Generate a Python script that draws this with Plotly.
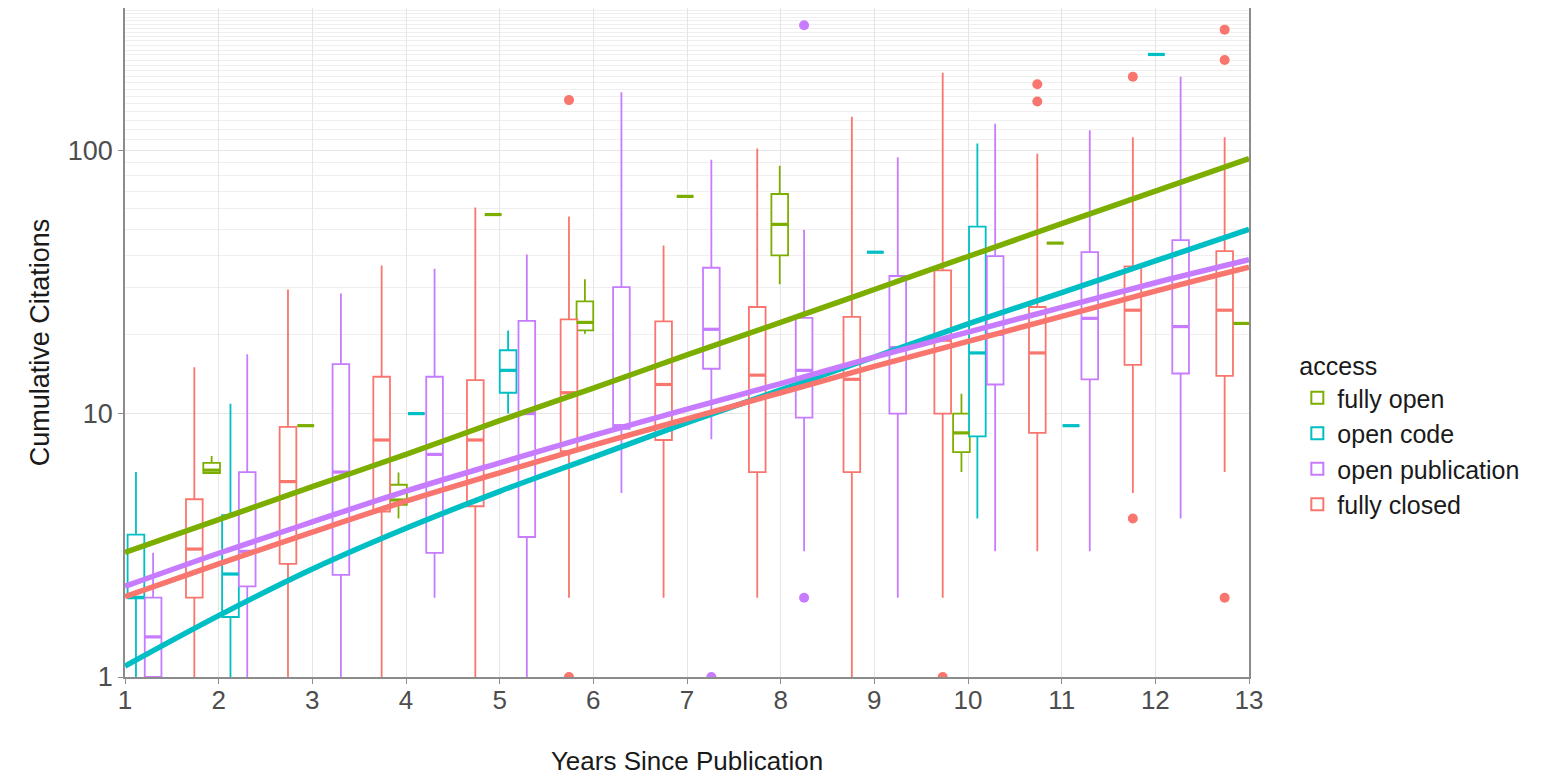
import plotly.graph_objects as go

# ---------------- data ----------------
groups = ["fully open", "open code", "open publication", "fully closed"]
colors = {"fully open": "#7CAE00", "open code": "#00BFC4",
          "open publication": "#C77CFF", "fully closed": "#F8766D"}

# fully open (green)
open_x = [1.925, 2.93, 3.92, 4.93, 5.91, 6.98, 7.99, 9.93, 10.93, 12.92]
open_q1 = [5.95, 9, 4.5, 57, 20.7, 66.8, 39.9, 7.14, 44.4, 22]
open_med = [6.1, 9, 4.7, 57, 22.2, 66.8, 52.3, 8.45, 44.4, 22]
open_q3 = [6.5, 9, 5.37, 57, 26.7, 66.8, 68.2, 10.0, 44.4, 22]
open_lo = [5.95, 9, 4.0, 57, 20.1, 66.8, 31.0, 6.0, 44.4, 22]
open_hi = [6.9, 9, 5.97, 57, 32.4, 66.8, 87.3, 11.9, 44.4, 22]

# open code (teal)
code_x = [1.117, 2.126, 4.11, 5.09, 9.01, 10.1, 11.1, 12.01]
code_q1 = [2.0, 1.69, 10, 12.0, 41, 8.2, 9, 231]
code_med = [2.0, 2.46, 10, 14.6, 41, 17.0, 9, 231]
code_q3 = [3.47, 4.12, 10, 17.4, 41, 51.3, 9, 231]
code_lo = [1.0, 1.0, 10, 10.0, 41, 4.0, 9, 231]
code_hi = [6.0, 10.9, 10, 20.7, 41, 106, 9, 231]

# open publication (purple)
pub_x = [1.30, 2.305, 3.305, 4.305, 5.29, 6.30, 7.26, 8.25, 9.25, 10.29, 11.30, 12.27]
pub_q1 = [1.0, 2.21, 2.44, 2.96, 3.4, 8.75, 14.8, 9.66, 10.0, 12.9, 13.5, 14.2]
pub_med = [1.42, 3.0, 6.0, 7.0, 10.0, 9.0, 20.9, 14.6, 17.8, 20.0, 23.0, 21.4]
pub_q3 = [2.0, 6.0, 15.4, 13.8, 22.5, 30.2, 35.8, 23.1, 33.3, 39.6, 41.0, 45.6]
pub_lo = [1.0, 1.0, 1.0, 2.0, 1.0, 5.0, 8.0, 3.0, 2.0, 3.0, 3.0, 4.0]
pub_hi = [2.96, 16.8, 28.6, 35.5, 40.2, 166, 92, 49.9, 94, 126, 119, 190]
pub_out_x = [7.26, 8.25, 8.25]
pub_out_y = [1, 298, 2]

# fully closed (red)
closed_x = [1.74, 2.74, 3.74, 4.74, 5.74, 6.75, 7.75, 8.76, 9.73, 10.74, 11.76, 12.74]
closed_q1 = [2.0, 2.69, 4.25, 4.45, 7.2, 7.94, 6.0, 6.0, 10.0, 8.45, 15.3, 13.9]
closed_med = [3.06, 5.52, 7.94, 7.94, 12.0, 12.9, 14.0, 13.5, 19.0, 17.0, 24.7, 24.7]
closed_q3 = [4.73, 8.9, 13.8, 13.4, 22.8, 22.4, 25.4, 23.3, 35.0, 25.4, 36.2, 41.4]
closed_lo = [1.0, 1.0, 1.0, 1.0, 2.0, 2.0, 2.0, 1.0, 2.0, 3.0, 5.0, 6.0]
closed_hi = [15.0, 29.6, 36.5, 60.6, 56.0, 43.5, 101.6, 134, 197, 97, 112, 112]
closed_out_x = [5.74, 5.74, 9.73, 10.74, 10.74, 11.76, 11.76, 12.74, 12.74, 12.74]
closed_out_y = [155, 1, 1, 178, 153, 190, 4, 287, 220, 2]

# smooth fit lines (read at each year)
fit_years = [1, 2, 3, 4, 5, 6, 7, 8, 9, 10, 11, 12, 13]
fit_open = [2.97, 3.96, 5.28, 7.0, 9.4, 12.5, 16.7, 22.2, 29.6, 39.5, 52.6, 70.0, 93.0]
fit_code = [1.10, 1.71, 2.57, 3.67, 5.07, 6.84, 9.23, 12.3, 16.4, 21.9, 28.8, 38.0, 50.1]
fit_pub = [2.21, 2.95, 3.88, 5.08, 6.5, 8.27, 10.4, 13.0, 16.4, 20.4, 25.3, 31.4, 38.4]
fit_closed = [2.02, 2.69, 3.55, 4.65, 5.96, 7.59, 9.55, 12.0, 15.1, 18.8, 23.4, 29.2, 36.0]

x_ticks = list(range(1, 14))
y_ticks = [1, 10, 100]

# ---------------- figure ----------------
BOX_W = 0.178
FONT = "Liberation Sans, Arial, Helvetica, sans-serif"

box_data = {
    "fully open": (open_x, open_q1, open_med, open_q3, open_lo, open_hi),
    "open code": (code_x, code_q1, code_med, code_q3, code_lo, code_hi),
    "open publication": (pub_x, pub_q1, pub_med, pub_q3, pub_lo, pub_hi),
    "fully closed": (closed_x, closed_q1, closed_med, closed_q3, closed_lo, closed_hi),
}
fits = {"fully open": fit_open, "open code": fit_code,
        "open publication": fit_pub, "fully closed": fit_closed}
outliers = {"open publication": (pub_out_x, pub_out_y),
            "fully closed": (closed_out_x, closed_out_y)}

fig = go.Figure()

for g in groups:
    xs, q1, med, q3, lo, hi = box_data[g]
    fig.add_trace(go.Box(
        name=g, legendgroup=g, x=xs, q1=q1, median=med, q3=q3,
        lowerfence=lo, upperfence=hi, width=BOX_W, whiskerwidth=0,
        line=dict(color=colors[g], width=1.8), fillcolor="white",
        boxpoints=False, showlegend=True, hoverinfo="skip"))

# thicker medians
for g in groups:
    xs, q1, med, q3, lo, hi = box_data[g]
    mx, my = [], []
    for x, m in zip(xs, med):
        mx += [x - BOX_W / 2, x + BOX_W / 2, None]
        my += [m, m, None]
    fig.add_trace(go.Scatter(x=mx, y=my, mode="lines", legendgroup=g,
                             line=dict(color=colors[g], width=3.2),
                             showlegend=False, hoverinfo="skip"))

for g, (ox, oy) in outliers.items():
    fig.add_trace(go.Scatter(x=ox, y=oy, mode="markers", legendgroup=g,
                             marker=dict(color=colors[g], size=10),
                             showlegend=False, hoverinfo="skip", cliponaxis=True))

for g in groups:
    fig.add_trace(go.Scatter(x=fit_years, y=fits[g], mode="lines", legendgroup=g,
                             line=dict(color=colors[g], width=5.5, shape="spline"),
                             showlegend=False, hoverinfo="skip"))

minor_vals = [v for v in range(20, 360, 10) if v != 100]

# the page body has an 8px default margin: size the figure to compensate
fig.update_layout(
    width=1544, height=768,
    margin=dict(l=117, r=303, t=0, b=99, autoexpand=False),
    paper_bgcolor="white", plot_bgcolor="white",
    boxmode="overlay",
    font=dict(family=FONT, color="#4D4D4D"),
    legend=dict(
        title=dict(text="access", font=dict(size=25, color="#1A1A1A")),
        font=dict(size=25, color="#1A1A1A"),
        x=1.043, xanchor="left", y=0.50, yanchor="top",
        traceorder="normal", itemsizing="constant",
        bgcolor="rgba(0,0,0,0)", tracegroupgap=2),
    xaxis=dict(
        range=[1, 13], tickmode="array", tickvals=x_ticks,
        ticktext=[str(v) for v in x_ticks], automargin=False,
        showgrid=True, gridcolor="#E6E6E6", gridwidth=1.2,
        zeroline=False, showline=True, linecolor="#8C8C8C", linewidth=1.5,
        mirror=True, ticks="outside", ticklen=5, tickcolor="#8C8C8C",
        ticklabelstandoff=-6,
        tickfont=dict(size=26, color="#4D4D4D"),
        title=dict(text="Years Since Publication",
                   font=dict(size=26, color="#1A1A1A"), standoff=38)),
    yaxis=dict(
        type="log", range=[0, 2.54], tickmode="array", tickvals=y_ticks,
        ticktext=[str(v) for v in y_ticks], automargin=False,
        showgrid=True, gridcolor="#E6E6E6", gridwidth=1.2,
        minor=dict(tickmode="array", tickvals=minor_vals, showgrid=True,
                   gridcolor="#EFEFEF", gridwidth=0.8, ticks=""),
        zeroline=False, showline=True, linecolor="#8C8C8C", linewidth=1.5,
        mirror=True, ticks="outside", ticklen=5, tickcolor="#8C8C8C",
        tickfont=dict(size=27, color="#4D4D4D"),
        title=dict(text="Cumulative Citations",
                   font=dict(size=27, color="#1A1A1A"), standoff=10)),
)

fig.write_html("out.html")
